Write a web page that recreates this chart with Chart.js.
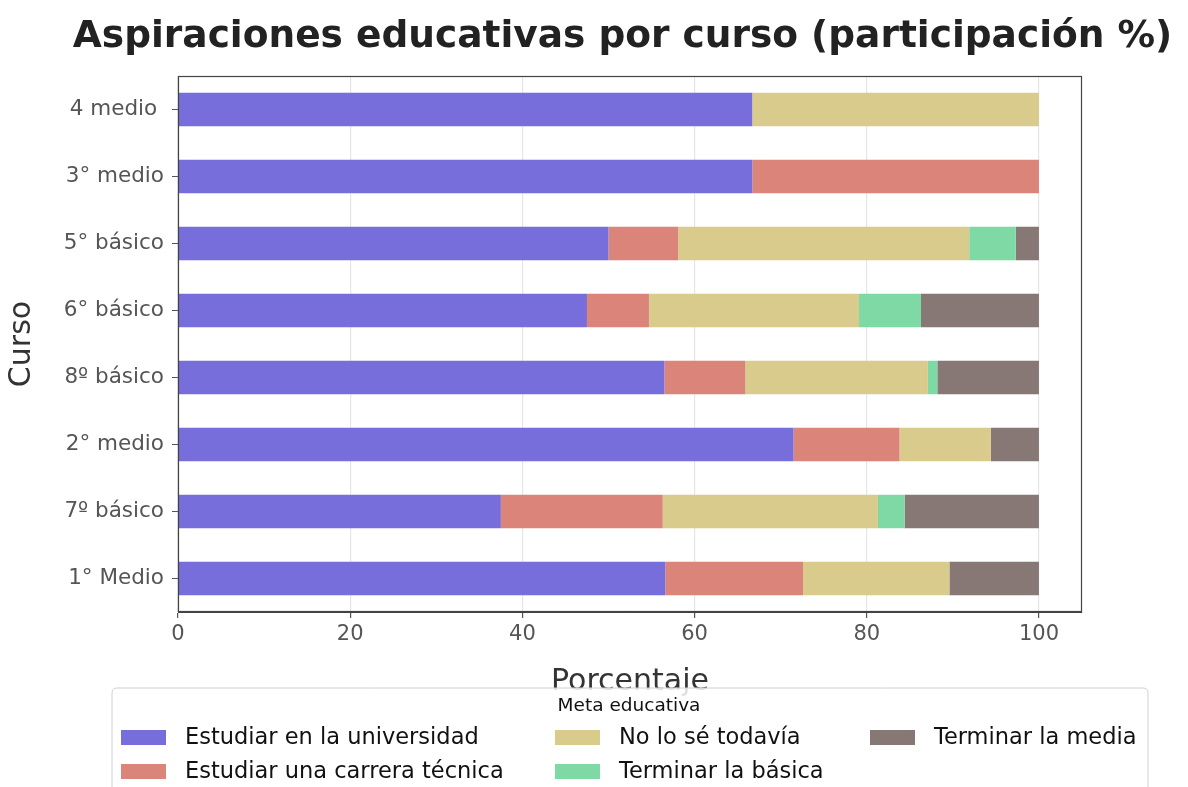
<!DOCTYPE html>
<html>
<head>
<meta charset="utf-8">
<script src="https://cdn.jsdelivr.net/npm/chart.js@4/dist/chart.umd.min.js"></script>
<style>
html,body{margin:0;padding:0;background:#fff;}
canvas{display:block;}
</style>
</head>
<body>
<canvas id="c" width="1188" height="787"></canvas>
<script>
const categories = ['4 medio ', '3° medio', '5° básico', '6° básico', '8º básico', '2° medio', '7º básico', '1° Medio'];
const seriesNames = ['Estudiar en la universidad', 'Estudiar una carrera técnica', 'No lo sé todavía', 'Terminar la básica', 'Terminar la media'];
const universidad = [66.7, 66.7, 50.0, 47.5, 56.5, 71.5, 37.5, 56.6];
const tecnica     = [0, 33.3, 8.1, 7.2, 9.4, 12.3, 18.8, 16.0];
const noSe        = [33.3, 0, 33.8, 24.4, 21.2, 10.6, 25.0, 17.0];
const basica      = [0, 0, 5.4, 7.2, 1.1, 0, 3.1, 0];
const media       = [0, 0, 2.7, 13.7, 11.8, 5.6, 15.6, 10.4];
const xTicks = [0, 20, 40, 60, 80, 100];
const colors = ['#776ddb', '#db847a', '#d9cb8b', '#7ed9a5', '#877775'];
const chartTitle = 'Aspiraciones educativas por curso (participación %)';
const legendTitle = 'Meta educativa';

const seriesValues = [universidad, tecnica, noSe, basica, media];
const FONT = "'DejaVu Sans', sans-serif";

const framePlugin = {
  id: 'frame',
  afterDatasetsDraw(chart) {
    const {ctx, chartArea: a} = chart;
    ctx.save();
    ctx.strokeStyle = '#444';
    ctx.lineWidth = 1.2;
    ctx.strokeRect(a.left + 0.5, a.top + 0.5, a.right - a.left - 1, a.bottom - a.top - 1);
    ctx.restore();
  }
};

const titlePlugin = {
  id: 'customTitle',
  afterDraw(chart) {
    const ctx = chart.ctx;
    ctx.save();
    ctx.fillStyle = '#222';
    ctx.font = "bold 37.5px " + FONT;
    ctx.textAlign = 'center';
    ctx.textBaseline = 'middle';
    ctx.fillText(chartTitle, 622.5, 37);
    ctx.restore();
  }
};

const legendPlugin = {
  id: 'customLegend',
  afterDraw(chart) {
    const ctx = chart.ctx;
    ctx.save();
    const x = 112, y = 688, w = 1036, h = 120, r = 5;
    ctx.beginPath();
    ctx.moveTo(x + r, y);
    ctx.lineTo(x + w - r, y);
    ctx.quadraticCurveTo(x + w, y, x + w, y + r);
    ctx.lineTo(x + w, y + h);
    ctx.lineTo(x, y + h);
    ctx.lineTo(x, y + r);
    ctx.quadraticCurveTo(x, y, x + r, y);
    ctx.closePath();
    ctx.fillStyle = 'rgba(255,255,255,0.85)';
    ctx.fill();
    ctx.strokeStyle = '#d0d0d0';
    ctx.lineWidth = 1;
    ctx.stroke();
    ctx.fillStyle = '#111';
    ctx.font = "18.5px " + FONT;
    ctx.textAlign = 'center';
    ctx.textBaseline = 'middle';
    ctx.fillText(legendTitle, 629, 706);
    const colX = [121, 555, 870];
    const rowY = [737.5, 771.5];
    ctx.font = "22.5px " + FONT;
    ctx.textAlign = 'left';
    chart.data.datasets.forEach((ds, i) => {
      const col = Math.floor(i / 2), row = i % 2;
      const px = colX[col], py = rowY[row];
      ctx.fillStyle = ds.backgroundColor;
      ctx.fillRect(px, py - 7.5, 45, 15);
      ctx.fillStyle = '#111';
      ctx.fillText(ds.label, px + 64, py + 1);
    });
    ctx.restore();
  }
};

new Chart(document.getElementById('c'), {
  type: 'bar',
  data: {
    labels: categories,
    datasets: seriesNames.map((name, i) => ({
      label: name,
      data: seriesValues[i],
      backgroundColor: colors[i],
      borderWidth: 0,
      barPercentage: 0.5,
      categoryPercentage: 1.0
    }))
  },
  options: {
    indexAxis: 'y',
    responsive: false,
    animation: false,
    layout: { padding: { left: 0, right: 106, top: 76, bottom: 85 } },
    plugins: {
      legend: { display: false },
      tooltip: { enabled: false },
      title: { display: false }
    },
    scales: {
      x: {
        stacked: true,
        min: 0,
        max: 105,
        afterBuildTicks(scale) { scale.ticks = xTicks.map(v => ({ value: v })); },
        afterFit(scale) { scale.height = 90; },
        ticks: { color: '#555', font: { family: FONT, size: 21 }, padding: 4 },
        grid: { color: '#e6e6e6', lineWidth: 1.2, tickColor: '#555', tickLength: 6, drawTicks: true },
        border: { display: true, color: '#444' },
        title: { display: true, text: 'Porcentaje', color: '#333', font: { family: FONT, size: 30 }, padding: { top: 0, bottom: 2 } }
      },
      y: {
        stacked: true,
        afterFit(scale) { scale.width = 178; },
        ticks: { color: '#555', font: { family: FONT, size: 21.5 }, padding: 8 },
        grid: { offset: false, drawOnChartArea: false, tickColor: '#555', tickLength: 6, drawTicks: true },
        border: { display: true, color: '#444' },
        title: { display: true, text: 'Curso', color: '#333', font: { family: FONT, size: 30 }, padding: { top: 4, bottom: 0 } }
      }
    }
  },
  plugins: [framePlugin, titlePlugin, legendPlugin]
});
</script>
</body>
</html>
